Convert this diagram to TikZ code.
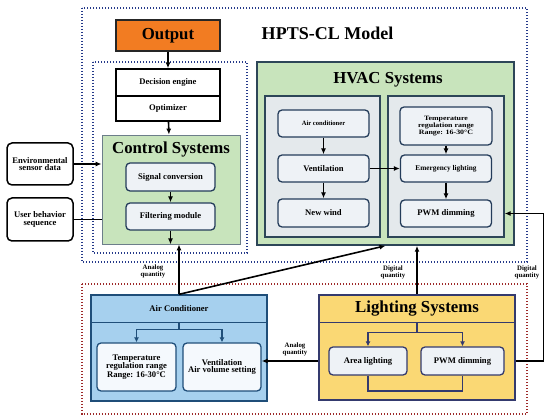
\documentclass[tikz,border=0pt]{standalone}
\usepackage{fontspec}
\setmainfont{Liberation Serif}
\newfontfamily\wideserif[FakeStretch=1.2]{Liberation Serif}
\usetikzlibrary{arrows.meta}
\definecolor{outorange}{RGB}{242,124,34}
\definecolor{softgreen}{RGB}{200,228,188}
\definecolor{slateedge}{RGB}{45,70,88}
\definecolor{panelgray}{RGB}{228,233,236}
\definecolor{boxfill}{RGB}{238,242,246}
\definecolor{boxedge}{RGB}{36,60,90}
\definecolor{acblue}{RGB}{166,208,238}
\definecolor{acedge}{RGB}{31,78,121}
\definecolor{acwhite}{RGB}{245,249,253}
\definecolor{ltyellow}{RGB}{250,216,116}
\definecolor{ltedge}{RGB}{52,58,110}
\definecolor{dotblue}{RGB}{37,58,138}
\definecolor{dotred}{RGB}{158,42,42}

\begin{document}
\begin{tikzpicture}[x=1pt,y=-1pt,>={Latex[length=6pt,width=5pt]},
	every node/.style={font=\bfseries\fontsize{8.6}{7.6}\selectfont,align=center,inner sep=0pt},
	sz/.style 2 args={minimum width=#1pt,minimum height=#2pt},
	title/.style={font=\bfseries\fontsize{16.8}{17}\selectfont},
	qlabel/.style={font=\bfseries\fontsize{6.8}{7.2}\selectfont},
	conn/.style={line width=1.6pt,black},
	bluedot/.style={dotblue,line width=1.1pt,dash pattern=on 1.1pt off 1.9pt},
	reddot/.style={dotred,line width=1.1pt,dash pattern=on 1.1pt off 1.9pt},
	outbox/.style={draw=black!85,line width=1.6pt,fill=outorange,font=\bfseries\fontsize{16.8}{17}\selectfont},
	sqbox/.style={draw=black,line width=1.3pt,fill=white},
	inbox/.style={draw=black,line width=1.5pt,fill=white,rounded corners=5pt},
	greenbox/.style={draw=slateedge!70,line width=0.8pt,fill=softgreen},
	hvacbox/.style={draw=slateedge,line width=1.5pt,fill=softgreen},
	panel/.style={draw=slateedge,line width=1.3pt,fill=panelgray},
	rbox/.style={draw=boxedge,line width=1.3pt,fill=boxfill,rounded corners=4pt},
	acbox/.style={draw=acedge,line width=1.3pt,fill=acblue},
	acline/.style={acedge,line width=1.3pt,>={Latex[length=5pt,width=5pt]}},
	wbox/.style={draw=acedge,line width=1.3pt,fill=acwhite,rounded corners=4pt},
	ltbox/.style={draw=ltedge,line width=1.3pt,fill=ltyellow},
	ltline/.style={ltedge,line width=1.3pt,>={Latex[length=5pt,width=5pt]}},
	lrbox/.style={draw=ltedge,line width=1.3pt,fill=boxfill,rounded corners=4pt}]
	\useasboundingbox (0,0) rectangle (550,417);
	% dotted frames
	\draw[bluedot] (82,8) rectangle (527,262);
	\draw[bluedot] (93,62) rectangle (247,253);
	\draw[reddot] (82,284) rectangle (527,414);
	\node[title,font=\bfseries\fontsize{18}{18}\selectfont] (model) at (327.5,33) {HPTS-CL Model};
	% output and decision stack
	\node[outbox,sz={104}{31}] (out) at (168,35.5) {Output};
	\node[sqbox,sz={104}{27}] (dec) at (168,82.5) {Decision engine};
	\node[sqbox,sz={104}{25}] (opt) at (168,108.5) {Optimizer};
	% control systems
	\node[greenbox,sz={138}{109}] (ctrl) at (171,189.5) {};
	\node[title] (ctrlt) at (171,149) {Control Systems};
	\node[rbox,sz={89}{28}] (sig) at (170.5,177) {Signal conversion};
	\node[rbox,sz={89}{27}] (filt) at (170.5,216.5) {Filtering module};
	\draw[conn,->] (out) -- (dec);
	\draw[conn,->] (opt) -- (ctrl);
	\draw[conn,->] (sig) -- (filt);
	\draw[conn,->] (filt) -- (filt |- ctrl.south);
	% inputs
	\node[inbox,sz={66}{42}] (env) at (40,164) {Environmental\\sensor data};
	\node[inbox,sz={66}{43}] (usr) at (40,219.5) {User behavior\\sequence};
	\draw[conn,->] (env) -- (env -| ctrl.west);
	\draw[conn] (usr) -- (usr -| ctrl.west);
	% HVAC systems
	\node[hvacbox,sz={257}{183}] (hvac) at (385.5,153.5) {};
	\node[title] (hvact) at (388,80) {HVAC Systems};
	\node[panel,sz={115}{141}] (lpan) at (322.5,166.5) {};
	\node[panel,sz={116}{141}] (rpan) at (446,166.5) {};
	\node[rbox,sz={91}{27},font=\bfseries\fontsize{6.6}{7}\selectfont] (ac) at (323.5,123.5) {Air conditioner};
	\node[rbox,sz={91}{27}] (vent) at (323.5,168.5) {Ventilation};
	\node[rbox,sz={91}{28}] (nwind) at (323.5,213) {New wind};
	\node[rbox,sz={92}{38},font=\wideserif\bfseries\fontsize{6.6}{6.9}\selectfont] (temp) at (446,126) {Temperature\\regulation range\\Range: 16-30°C};
	\node[rbox,sz={91}{27},font=\bfseries\fontsize{7.3}{7.5}\selectfont] (emer) at (446,168.5) {Emergency lighting};
	\node[rbox,sz={91}{27}] (pwm) at (446,213.5) {PWM dimming};
	\draw[conn,->] (ac) -- (vent);
	\draw[conn,->] (vent) -- (nwind);
	\draw[conn,->] (vent) -- (emer);
	\draw[conn,->] (temp) -- (emer);
	\draw[conn,->] (emer) -- (pwm);
	% air conditioner
	\node[acbox,sz={176}{106}] (acs) at (179,348) {};
	\draw[acline] ([yshift=-28pt]acs.north west) -- ([yshift=-28pt]acs.north east);
	\node (acst) at ([yshift=-14pt]acs.north) {Air Conditioner};
	\node[wbox,sz={79}{48}] (tmp2) at (136.5,367) {Temperature\\regulation range\\Range: 16-30°C};
	\node[wbox,sz={78}{48}] (vnt2) at (222,367) {Ventilation\\Air volume setting};
	\draw[acline,->] ([yshift=-28pt]acs.north) -- ++(0,7) -| (tmp2);
	\draw[acline,->] ([yshift=-28pt]acs.north) -- ++(0,7) -| (vnt2);
	% lighting systems
	\node[ltbox,sz={196}{105}] (lsys) at (417,347.5) {};
	\draw[ltline] ([yshift=-28pt]lsys.north west) -- ([yshift=-28pt]lsys.north east);
	\node[title] (lsyst) at ([yshift=-14pt]lsys.north) {Lighting Systems};
	\node[lrbox,sz={78}{28}] (area) at (368,361) {Area lighting};
	\node[lrbox,sz={83}{28}] (pwm2) at (462.5,361) {PWM dimming};
	\draw[ltline,->] ([yshift=-28pt]lsys.north) -- ++(0,10) -| (area);
	\draw[ltline,->] ([yshift=-28pt]lsys.north) -- ++(0,10) -| (pwm2);
	\draw[ltline] (area) -- ++(0,30) -| (pwm2);
	% links between systems
	\draw[conn,->] (acs.north) -- (acs.north |- ctrl.south);
	\draw[conn,->] (acs.north) -- (hvac.south);
	\draw[conn,->] (lsys.north) -- (lsys.north |- hvac.south);
	\draw[conn,->] (lsys.west |- pwm2) -- (vnt2.east |- pwm2);
	\draw[conn,->] (lsys.east |- pwm2) -- ++(28,0) |- (rpan.east |- pwm);
	% quantity labels
	\node[qlabel] (q1) at (153,271) {Analog\\quantity};
	\node[qlabel] (q2) at (393,272) {Digital\\quantity};
	\node[qlabel] (q3) at (527,272) {Digital\\quantity};
	\node[qlabel] (q4) at (295,349) {Analog\\quantity};
\end{tikzpicture}
\end{document}
